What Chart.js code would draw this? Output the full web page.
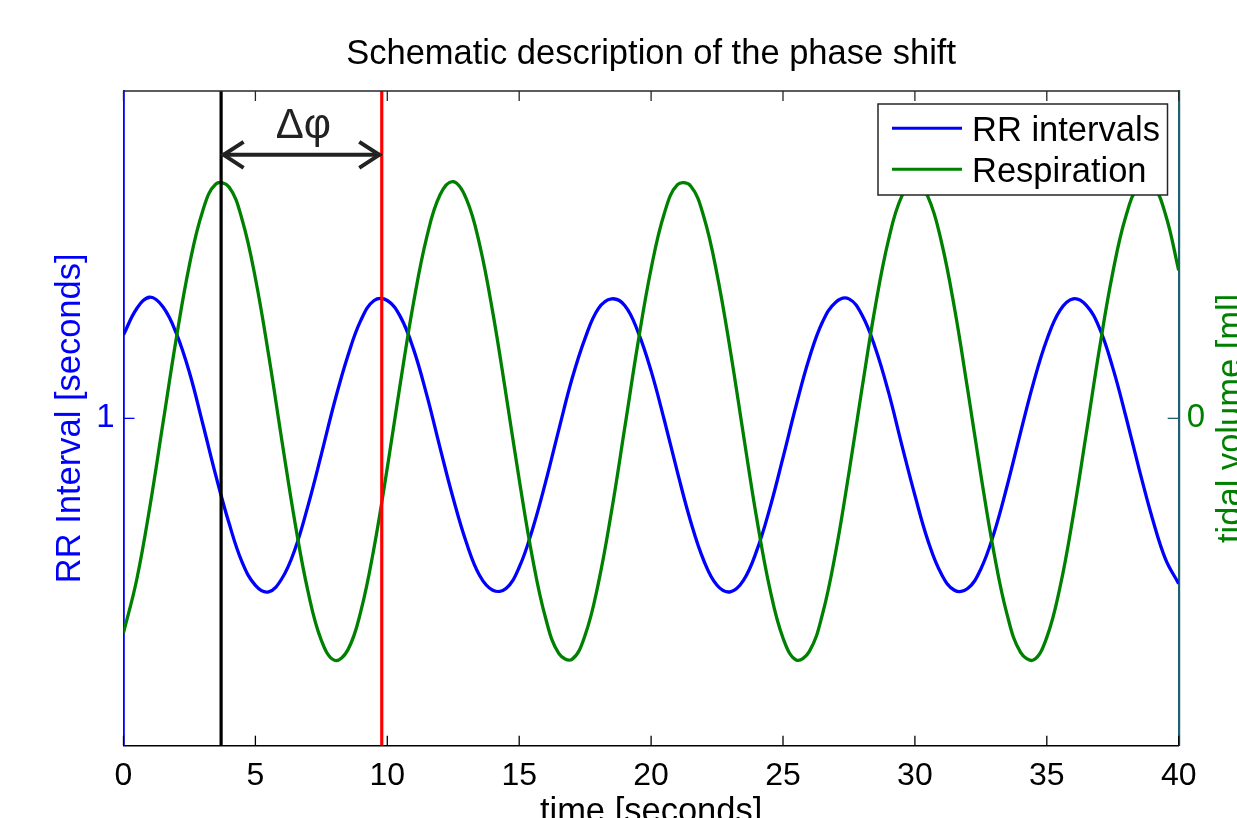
<!DOCTYPE html>
<html>
<head>
<meta charset="utf-8">
<script src="https://cdn.jsdelivr.net/npm/chart.js@4.4.1/dist/chart.umd.min.js"></script>
<style>
html,body{margin:0;padding:0;background:#fff;}
canvas{display:block;}
</style>
</head>
<body>
<canvas id="myChart" width="1237" height="818"></canvas>
<script>

// sample times [s]
var time = [0,0.5,1,1.5,2,2.5,3,3.5,4,4.5,5,5.5,6,6.5,7,7.5,8,8.5,9,9.5,
	10,10.5,11,11.5,12,12.5,13,13.5,14,14.5,15,15.5,16,16.5,17,17.5,18,18.5,19,19.5,
	20,20.5,21,21.5,22,22.5,23,23.5,24,24.5,25,25.5,26,26.5,27,27.5,28,28.5,29,29.5,
	30,30.5,31,31.5,32,32.5,33,33.5,34,34.5,35,35.5,36,36.5,37,37.5,38,38.5,39,39.5,40];

// RR interval [s], left axis
var rrInterval = [1.051,1.067,1.074,1.068,1.052,1.028,0.997,0.965,0.936,0.912,
	0.898,0.894,0.902,0.920,0.947,0.978,1.010,1.038,1.060,1.072,
	1.072,1.062,1.042,1.014,0.982,0.951,0.924,0.904,0.895,0.896,
	0.909,0.932,0.961,0.993,1.024,1.049,1.067,1.073,1.069,1.053,
	1.029,0.999,0.967,0.937,0.913,0.898,0.894,0.901,0.919,0.945,
	0.976,1.008,1.037,1.059,1.071,1.073,1.063,1.043,1.016,0.984,
	0.953,0.925,0.905,0.895,0.896,0.908,0.930,0.959,0.991,1.022,
	1.048,1.066,1.073,1.069,1.055,1.031,1.001,0.969,0.939,0.914,0.899];

// tidal volume, right axis
var respiration = [-0.655,-0.493,-0.270,-0.013,0.244,0.469,0.633,0.716,0.707,0.606,
	0.428,0.194,-0.066,-0.318,-0.531,-0.678,-0.739,-0.708,-0.588,-0.394,
	-0.151,0.110,0.356,0.555,0.683,0.723,0.670,0.531,0.323,0.073,
	-0.187,-0.425,-0.610,-0.718,-0.736,-0.662,-0.504,-0.284,-0.029,0.229,
	0.457,0.626,0.714,0.710,0.615,0.440,0.209,-0.050,-0.304,-0.520,
	-0.671,-0.738,-0.712,-0.597,-0.407,-0.166,0.094,0.342,0.545,0.678,
	0.723,0.676,0.541,0.337,0.088,-0.172,-0.412,-0.601,-0.714,-0.738,
	-0.669,-0.516,-0.298,-0.044,0.215,0.445,0.618,0.711,0.713,0.623,0.452];

var xTicks = [0,5,10,15,20,25,30,35,40];
var rrTicks = [1];
var volTicks = [0];

// black line = respiration peak, red line = RR peak
var markerTimes = [3.7, 9.79];
var arrowLevel = 0.805;   // on the tidal volume axis
var labelLevel = 0.857;

var FONT = '"Liberation Sans", Arial, sans-serif';

var overlay = {
	id: "overlay",
	afterDraw: function( chart ){
		var ctx = chart.ctx, a = chart.chartArea;
		var sx = chart.scales.x, sl = chart.scales.yL, sr = chart.scales.yR;
		ctx.save();

		// top frame line
		ctx.strokeStyle = "#262626"; ctx.lineWidth = 1.5;
		ctx.beginPath(); ctx.moveTo( a.left, a.top ); ctx.lineTo( a.right, a.top ); ctx.stroke();

		// inward ticks
		ctx.lineWidth = 1.3;
		sx.ticks.forEach( function(t){
			var px = sx.getPixelForValue( t.value );
			ctx.strokeStyle = "#000";
			ctx.beginPath(); ctx.moveTo( px, a.bottom ); ctx.lineTo( px, a.bottom-10 ); ctx.stroke();
			ctx.strokeStyle = "#262626";
			ctx.beginPath(); ctx.moveTo( px, a.top ); ctx.lineTo( px, a.top+10 ); ctx.stroke();
		});
		sl.ticks.forEach( function(t){
			var py = sl.getPixelForValue( t.value );
			ctx.strokeStyle = "#0000ff";
			ctx.beginPath(); ctx.moveTo( a.left, py ); ctx.lineTo( a.left+11, py ); ctx.stroke();
		});
		sr.ticks.forEach( function(t){
			var py = sr.getPixelForValue( t.value );
			ctx.strokeStyle = "#1f6070";
			ctx.beginPath(); ctx.moveTo( a.right, py ); ctx.lineTo( a.right-11, py ); ctx.stroke();
		});

		// titles
		ctx.fillStyle = "#000";
		ctx.font = "34.5px " + FONT;
		ctx.textAlign = "center"; ctx.textBaseline = "alphabetic";
		ctx.fillText( "Schematic description of the phase shift", (a.left+a.right)/2, 64 );
		ctx.fillText( "time [seconds]", (a.left+a.right)/2, 822 );

		ctx.save();
		ctx.translate( 80, (a.top+a.bottom)/2 ); ctx.rotate( -Math.PI/2 );
		ctx.fillStyle = "#0000ff";
		ctx.fillText( "RR Interval [seconds]", 0, 0 );
		ctx.restore();

		ctx.save();
		ctx.translate( 1241, (a.top+a.bottom)/2 ); ctx.rotate( -Math.PI/2 );
		ctx.fillStyle = "#008000";
		ctx.fillText( "tidal volume [ml]", 0, 0 );
		ctx.restore();

		// phase shift arrow
		var x1 = sx.getPixelForValue( markerTimes[0] ) + 1.5;
		var x2 = sx.getPixelForValue( markerTimes[1] ) - 1.5;
		var ya = sr.getPixelForValue( arrowLevel );
		ctx.strokeStyle = "#222"; ctx.lineWidth = 4; ctx.lineCap = "butt";
		ctx.beginPath(); ctx.moveTo( x1, ya ); ctx.lineTo( x2, ya ); ctx.stroke();
		ctx.beginPath();
		ctx.moveTo( x1+21, ya-13 ); ctx.lineTo( x1+1, ya ); ctx.lineTo( x1+21, ya+13 );
		ctx.moveTo( x2-21, ya-13 ); ctx.lineTo( x2-1, ya ); ctx.lineTo( x2-21, ya+13 );
		ctx.stroke();
		ctx.fillStyle = "#222";
		ctx.font = "42px " + FONT;
		ctx.fillText( "Δφ", (x1+x2)/2 + 2, sr.getPixelForValue( labelLevel ) );

		// legend box
		var bx = a.right - 300.7, by = a.top + 13, bw = 289.5, bh = 91;
		ctx.fillStyle = "#fff"; ctx.fillRect( bx, by, bw, bh );
		ctx.strokeStyle = "#262626"; ctx.lineWidth = 1.5; ctx.strokeRect( bx, by, bw, bh );
		ctx.font = "34.5px " + FONT; ctx.textAlign = "left";
		chart.data.datasets.filter( function(d){ return d.label; } ).forEach( function(d,i){
			var ry = by + 24.3 + i*41;
			ctx.strokeStyle = d.borderColor; ctx.lineWidth = 3;
			ctx.beginPath(); ctx.moveTo( bx+14, ry ); ctx.lineTo( bx+84, ry ); ctx.stroke();
			ctx.fillStyle = "#000";
			ctx.fillText( d.label, bx+94, ry+12.5 );
		});

		ctx.restore();
	}
};

window.onload = ()=>{

	var rrPts = time.map( (t,i)=>({ x:t, y:rrInterval[i] }) );
	var volPts = time.map( (t,i)=>({ x:t, y:respiration[i] }) );

	new Chart("myChart", {
		type: "line",
		data: {
			datasets: [
			{
				label: "RR intervals",
				data: rrPts, yAxisID: "yL",
				borderColor: "#0000ff", borderWidth: 3.3,
				pointRadius: 0, tension: 0.4, fill: false, order: 2
			},
			{
				label: "Respiration",
				data: volPts, yAxisID: "yR",
				borderColor: "#008000", borderWidth: 3.3,
				pointRadius: 0, tension: 0.4, fill: false, order: 1
			},
			{
				data: [ {x:markerTimes[0], y:-1}, {x:markerTimes[0], y:1} ], yAxisID: "yR",
				borderColor: "#000000", borderWidth: 3.2, pointRadius: 0, order: 0
			},
			{
				data: [ {x:markerTimes[1], y:-1}, {x:markerTimes[1], y:1} ], yAxisID: "yR",
				borderColor: "#ff0000", borderWidth: 3.2, pointRadius: 0, order: 0
			},
		]},
		options: {
			responsive: false,
			animation: false,
			events: [],
			layout: { padding: { top: 91, left: 0, right: 0, bottom: 0 } },
			plugins: { legend: {display: false}, tooltip: {enabled: false}, title: {display: false} },
			scales: {
				x: {
					type: "linear", min: 0, max: 40,
					afterBuildTicks: s=>{ s.ticks = xTicks.map( v=>({value:v}) ); },
					afterFit: s=>{ s.height = 72.3; },
					grid: { display: false },
					border: { color: "#000", width: 1.5 },
					ticks: { color: "#000", font: {family: FONT, size: 32}, padding: 3, maxRotation: 0, autoSkip: false }
				},
				yL: {
					position: "left", min: 0.8, max: 1.2,
					afterBuildTicks: s=>{ s.ticks = rrTicks.map( v=>({value:v}) ); },
					afterFit: s=>{ s.width = 123.5; },
					grid: { display: false },
					border: { color: "#0000ff", width: 1.8 },
					ticks: { color: "#0000ff", font: {family: FONT, size: 33}, padding: 1 }
				},
				yR: {
					position: "right", min: -1, max: 1,
					afterBuildTicks: s=>{ s.ticks = volTicks.map( v=>({value:v}) ); },
					afterFit: s=>{ s.width = 58.3; },
					grid: { display: false },
					border: { color: "#1f6070", width: 2.2 },
					ticks: { color: "#008000", font: {family: FONT, size: 33}, padding: 0 }
				}
			}
		},
		plugins: [ overlay ]
	});

}
</script>
</body>
</html>
